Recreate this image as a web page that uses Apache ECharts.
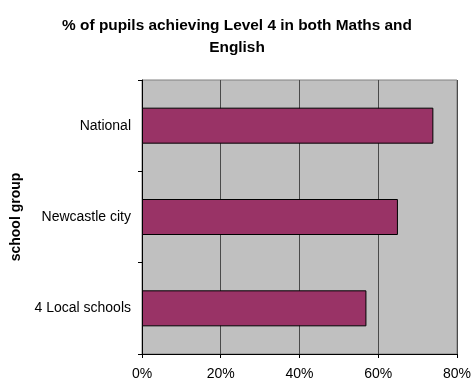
<!DOCTYPE html>
<html>
<head>
<meta charset="utf-8">
<script src="https://cdn.jsdelivr.net/npm/echarts@6/dist/echarts.min.js"></script>
<style>html,body{margin:0;padding:0;background:#fff;}#c{width:474px;height:381px;}</style>
</head>
<body>
<div id="c"></div>
<script>
const categories = ['National', 'Newcastle city', '4 Local schools'];
const values = [74, 65, 57];
const xTicks = [0, 20, 40, 60, 80];

const chart = echarts.init(document.getElementById('c'), null, {renderer: 'canvas'});
const F = '"Liberation Sans", Arial, sans-serif';
chart.setOption({
  animation: false,
  backgroundColor: '#ffffff',
  title: {
    text: '% of pupils achieving Level 4 in both Maths and\nEnglish',
    left: 'center',
    top: 9,
    textStyle: {fontFamily: F, fontSize: 15.4, fontWeight: 'bold', color: '#000', lineHeight: 22.5}
  },
  grid: {
    left: 142, right: 14, top: 80, bottom: 26,
    show: true, backgroundColor: '#C0C0C0', borderColor: '#808080', borderWidth: 1
  },
  xAxis: {
    type: 'value',
    min: xTicks[0], max: xTicks[xTicks.length - 1], interval: 20,
    axisLine: {show: true, lineStyle: {color: '#000', width: 1}},
    axisTick: {show: true, length: 4, lineStyle: {color: '#000'}},
    axisLabel: {formatter: '{value}%', fontFamily: F, fontSize: 14, color: '#000', margin: 13},
    splitLine: {show: true, lineStyle: {color: '#4a4a4a', width: 1}}
  },
  yAxis: {
    type: 'category',
    data: categories,
    inverse: true,
    name: 'school group',
    nameLocation: 'middle',
    nameGap: 110,
    nameTextStyle: {fontFamily: F, fontSize: 14, fontWeight: 'bold', color: '#000'},
    axisLine: {show: true, lineStyle: {color: '#000', width: 1}},
    axisTick: {show: true, length: 4, lineStyle: {color: '#000'}},
    axisLabel: {fontFamily: F, fontSize: 14, color: '#000', margin: 11},
    splitLine: {show: false}
  },
  series: [{
    type: 'bar',
    data: values,
    barWidth: 36,
    itemStyle: {color: '#993366', borderColor: '#000', borderWidth: 1}
  }]
});
</script>
</body>
</html>
